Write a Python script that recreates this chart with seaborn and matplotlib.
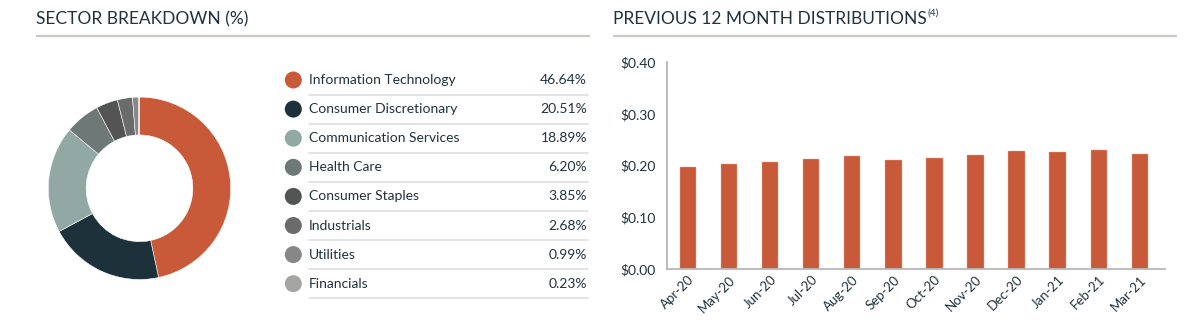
import matplotlib
matplotlib.use("Agg")
import matplotlib.pyplot as plt
import seaborn as sns
import pandas as pd

# ---------------- data ----------------
sectors = ["Information Technology", "Consumer Discretionary", "Communication Services",
           "Health Care", "Consumer Staples", "Industrials", "Utilities", "Financials"]
weights = [46.64, 20.51, 18.89, 6.20, 3.85, 2.68, 0.99, 0.23]
sector_colors = ["#c85a3a", "#1c313a", "#92a8a4", "#6d7877", "#535555", "#6b6b6b", "#878787", "#a5a5a3"]

months = ["Apr-20", "May-20", "Jun-20", "Jul-20", "Aug-20", "Sep-20",
          "Oct-20", "Nov-20", "Dec-20", "Jan-21", "Feb-21", "Mar-21"]
distributions = [0.197, 0.203, 0.207, 0.212, 0.218, 0.210,
                 0.215, 0.221, 0.228, 0.226, 0.231, 0.222]
y_ticks = [0.0, 0.1, 0.2, 0.3, 0.4]

left_title = "SECTOR BREAKDOWN (%)"
right_title = "PREVIOUS 12 MONTH DISTRIBUTIONS"
right_sup = "(4)"

# ---------------- style ----------------
sns.set_theme(style="white")
plt.rcParams["font.family"] = ["Lato", "DejaVu Sans"]
TEXT = "#22323a"
BAR = "#c85a3a"

W, H = 1200, 334
fig = plt.figure(figsize=(12, 3.34), dpi=100)
fig.patch.set_facecolor("white")

# background overlay (pixel coordinates) for titles and legend table
bg = fig.add_axes([0, 0, 1, 1], zorder=0)
bg.set_xlim(0, W)
bg.set_ylim(H, 0)
bg.axis("off")

fig.canvas.draw()
renderer = fig.canvas.get_renderer()

# titles
bg.text(36, 19, left_title, fontsize=12.5, color=TEXT, va="center", ha="left")
t = bg.text(613, 19, right_title, fontsize=12.5, color=TEXT, va="center", ha="left")
bb = t.get_window_extent(renderer=renderer)
bg.text(bb.x1 + 1, 13, right_sup, fontsize=7.5, color=TEXT, va="center", ha="left")

bg.plot([36, 590], [36, 36], color="#c9c9c5", lw=1.6, solid_capstyle="butt")
bg.plot([613, 1177], [36, 36], color="#c9c9c5", lw=1.6, solid_capstyle="butt")

# legend table
row0, dy = 80, 29.1
for i, (name, val, col) in enumerate(zip(sectors, weights, sector_colors)):
    y = row0 + i * dy
    bg.scatter([293.3], [y], s=150, color=col, edgecolor="none", zorder=3)
    bg.text(309, y, name, fontsize=10, color=TEXT, va="center", ha="left")
    bg.text(587, y, f"{val:.2f}%", fontsize=10, color=TEXT, va="center", ha="right")
    bg.plot([309, 588], [y + 14.5, y + 14.5], color="#dedede", lw=1.2)

# ---------------- donut ----------------
cx, cy, r = 139.5, 188.3, 91.2
pax = fig.add_axes([(cx - r) / W, (H - cy - r) / H, 2 * r / W, 2 * r / H], zorder=2)
pax.pie(weights, colors=sector_colors, startangle=90, counterclock=False,
        radius=1.0, wedgeprops=dict(width=0.415, edgecolor="white", linewidth=0.4))
pax.set_xlim(-1, 1)
pax.set_ylim(-1, 1)
pax.set_aspect("equal")
pax.axis("off")

# ---------------- bar chart ----------------
ax_l, ax_r, ax_t, ax_b = 667, 1164.5, 62, 269.3
bax = fig.add_axes([ax_l / W, (H - ax_b) / H, (ax_r - ax_l) / W, (ax_b - ax_t) / H], zorder=2)
df = pd.DataFrame({"month": months, "dist": distributions})
sns.barplot(data=df, x="month", y="dist", color=BAR, saturation=1, width=0.4,
            edgecolor="#e9a890", linewidth=0.3, ax=bax)
bax.set_xlim(-0.51, 11.6)
bax.set_ylim(0, 0.40)
bax.set_yticks(y_ticks)
bax.set_yticklabels([f"${v:.2f}" for v in y_ticks])
bax.set_xlabel("")
bax.set_ylabel("")
bax.tick_params(axis="y", length=0, pad=8.5, labelsize=10, labelcolor=TEXT)
bax.tick_params(axis="x", length=0, pad=3, labelsize=9.5, labelcolor=TEXT)
for lab in bax.get_xticklabels():
    lab.set_rotation(45)
    lab.set_ha("right")
    lab.set_rotation_mode("anchor")
for s in ["top", "right"]:
    bax.spines[s].set_visible(False)
for s in ["left", "bottom"]:
    bax.spines[s].set_color("#b8b8b8")
    bax.spines[s].set_linewidth(1.3)
bax.set_facecolor("none")

fig.savefig("out.png", dpi=100, facecolor="white")
